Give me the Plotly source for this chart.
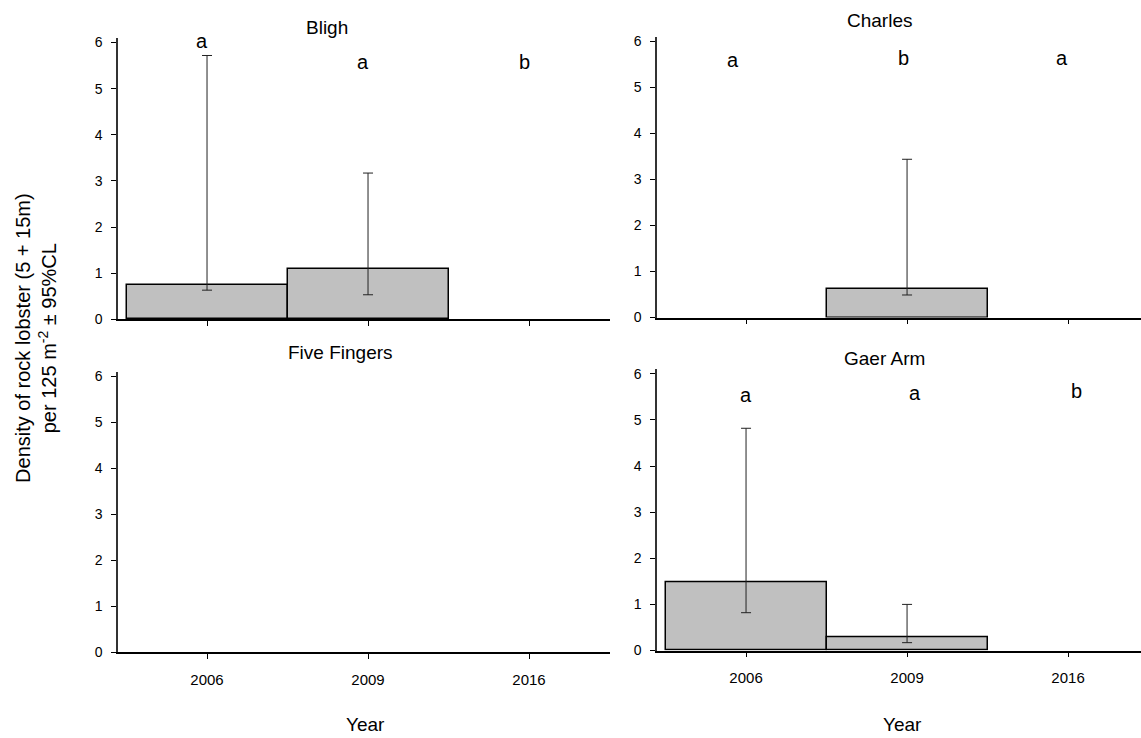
import plotly.graph_objects as go

years = ["2006", "2009", "2016"]
sites = ["Bligh", "Charles", "Five Fingers", "Gaer Arm"]

bligh_mean = [0.75, 1.08, 0.0]
bligh_upper = [5.72, 3.17, 0.0]
bligh_lower = [0.63, 0.53, 0.0]
bligh_letters = ["a", "a", "b"]
bligh_letter_y = [6.03, 5.58, 5.58]

charles_mean = [0.0, 0.63, 0.0]
charles_upper = [0.0, 3.44, 0.0]
charles_lower = [0.0, 0.49, 0.0]
charles_letters = ["a", "b", "a"]
charles_letter_y = [5.6, 5.65, 5.65]

fivefingers_mean = [0.0, 0.0, 0.0]
fivefingers_upper = [0.0, 0.0, 0.0]
fivefingers_lower = [0.0, 0.0, 0.0]
fivefingers_letters = ["", "", ""]
fivefingers_letter_y = [0, 0, 0]

gaer_mean = [1.49, 0.29, 0.0]
gaer_upper = [4.82, 1.00, 0.0]
gaer_lower = [0.82, 0.17, 0.0]
gaer_letters = ["a", "a", "b"]
gaer_letter_y = [5.55, 5.58, 5.62]

panels = [
    (bligh_mean, bligh_upper, bligh_lower, bligh_letters, bligh_letter_y),
    (charles_mean, charles_upper, charles_lower, charles_letters, charles_letter_y),
    (fivefingers_mean, fivefingers_upper, fivefingers_lower, fivefingers_letters, fivefingers_letter_y),
    (gaer_mean, gaer_upper, gaer_lower, gaer_letters, gaer_letter_y),
]
letter_dx = [[-0.03, -0.03, -0.03], [-0.08, -0.02, -0.04], [0, 0, 0], [0.0, 0.05, 0.05]]

W, H = 1141, 738
FONT = "Liberation Sans, Arial, sans-serif"

# pixel layout (x0, x1, y_top, y_bottom) for each panel's plot area
xdoms = [(118, 610), (657, 1141), (118, 610), (657, 1141)]
ydoms = [(35.5, 321), (34.4, 319.3), (374.4, 659.3), (371.8, 657.3)]
xranges = [[-0.553, 2.503], [-0.553, 2.453], [-0.553, 2.503], [-0.553, 2.453]]

fig = go.Figure()
annotations = []
xs = [0, 1, 2]
for i, (mean, up, lo, letters, ly) in enumerate(panels):
    n = "" if i == 0 else str(i + 1)
    xa, ya = "x" + n, "y" + n
    has = [m > 0 for m in mean]
    yplot = [m if h else None for m, h in zip(mean, has)]
    plus = [u - m if h else None for u, m, h in zip(up, mean, has)]
    minus = [m - l if h else None for m, l, h in zip(mean, lo, has)]
    fig.add_trace(go.Bar(
        x=xs, y=yplot, width=1.0,
        marker=dict(color="#c0c0c0", line=dict(color="black", width=1.5)),
        error_y=dict(type="data", symmetric=False, array=plus, arrayminus=minus,
                     color="#222222", thickness=1, width=5),
        xaxis=xa, yaxis=ya, showlegend=False, hoverinfo="skip",
    ))
    x0, x1 = xdoms[i]
    yt, yb = ydoms[i]
    bottom = i >= 2
    fig.layout["xaxis" + n] = dict(
        domain=[x0 / W, x1 / W], range=xranges[i], anchor=ya,
        tickmode="array", tickvals=xs, ticktext=years, showticklabels=bottom,
        showline=True, linecolor="black", linewidth=1.5,
        ticks="outside", ticklen=5, tickcolor="black", tickwidth=1,
        ticklabelstandoff=8,
        showgrid=False, zeroline=False,
        tickfont=dict(family=FONT, size=15, color="black"),
    )
    fig.layout["yaxis" + n] = dict(
        domain=[(H - yb) / H, (H - yt) / H], range=[0, 6.1], anchor=xa,
        tickvals=[0, 1, 2, 3, 4, 5, 6],
        showline=True, linecolor="#333333", linewidth=1.5,
        ticks="outside", ticklen=5, tickcolor="black", tickwidth=1,
        ticklabelstandoff=6,
        showgrid=False, zeroline=False,
        tickfont=dict(family=FONT, size=14, color="black"),
    )
    for j, t in enumerate(letters):
        if t:
            annotations.append(dict(x=xs[j] + letter_dx[i][j], y=ly[j], xref=xa, yref=ya,
                                    text=t, showarrow=False, xanchor="center", yanchor="middle",
                                    font=dict(family=FONT, size=20, color="black")))

# panel titles (pixel centres)
title_x = [327, 879, 340, 884]
title_y = [25, 18, 355, 361]
for i, s in enumerate(sites):
    annotations.append(dict(x=title_x[i] / W, y=(H - title_y[i]) / H,
                            xref="paper", yref="paper", text=s, showarrow=False,
                            yanchor="middle", xanchor="center",
                            font=dict(family=FONT, size=19, color="black")))

for cx in (365, 902):
    annotations.append(dict(x=cx / W, y=(H - 732) / H, xref="paper", yref="paper",
                            text="Year", showarrow=False, xanchor="center", yanchor="middle",
                            font=dict(family=FONT, size=19, color="black")))

annotations.append(dict(x=36 / W, y=(H - 340) / H, xref="paper", yref="paper",
                        text="Density of rock lobster (5 + 15m)<br>per 125 m<sup>-2</sup> ± 95%CL",
                        showarrow=False, textangle=-90, xanchor="center", yanchor="middle",
                        font=dict(family=FONT, size=20, color="black")))

fig.update_layout(
    width=W, height=H, margin=dict(l=0, r=0, t=0, b=0),
    paper_bgcolor="white", plot_bgcolor="white",
    annotations=annotations, bargap=0, hovermode=False,
)
fig.write_html("out.html", config={"displayModeBar": False},
               post_script="document.body.style.margin='0';document.body.style.overflow='hidden';")
